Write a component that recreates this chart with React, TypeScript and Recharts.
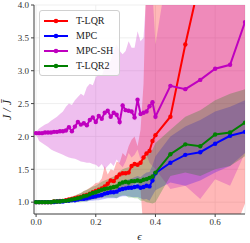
import React from "react";
import {
  ComposedChart,
  Line,
  Area,
  XAxis,
  YAxis,
  CartesianGrid,
  Legend,
  Label,
} from "recharts";

const eps = [
  0.0, 0.01, 0.02, 0.03, 0.04, 0.05, 0.06, 0.07, 0.08, 0.09,
  0.1, 0.11, 0.12, 0.13, 0.14, 0.15, 0.16, 0.17, 0.18, 0.19,
  0.2, 0.21, 0.22, 0.23, 0.24, 0.25, 0.26, 0.27, 0.28, 0.29,
  0.3, 0.31, 0.32, 0.33, 0.34, 0.35, 0.36, 0.37, 0.38, 0.39, 0.4,
  0.45, 0.5, 0.55, 0.6, 0.65, 0.7,
];

// T-LQR
const tlqr = [
  1.0, 1.0, 1.0, 1.0, 1.0, 1.0, 1.01, 1.01, 1.02, 1.02,
  1.03, 1.04, 1.05, 1.06, 1.07, 1.08, 1.1, 1.11, 1.13, 1.15,
  1.17, 1.19, 1.21, 1.24, 1.28, 1.33, 1.32, 1.38, 1.42, 1.44,
  1.44, 1.45, 1.55, 1.58, 1.57, 1.6, 1.68, 1.74, 1.78, 1.93, 2.02,
  2.3, 3.4, 4.4, 5.2, 6.0, 6.8,
];
const tlqrHi = [
  1.005, 1.005, 1.005, 1.01, 1.01, 1.01, 1.02, 1.025, 1.035, 1.04,
  1.06, 1.07, 1.09, 1.1, 1.12, 1.14, 1.17, 1.19, 1.22, 1.25,
  1.29, 1.3, 1.36, 1.55, 1.42, 1.5, 1.48, 1.62, 1.6, 1.75,
  1.7, 1.85, 1.95, 2.0, 1.85, 2.1, 2.8, 4.6, 4.8, 5.0, 5.2,
  5.6, 6.2, 7, 8, 9, 10,
];
const tlqrLo = [
  0.995, 0.995, 0.995, 0.99, 0.99, 0.99, 1.0, 0.995, 1.005, 1.0,
  1.0, 1.01, 1.01, 1.02, 1.02, 1.02, 1.03, 1.03, 1.04, 1.05,
  1.05, 1.08, 1.06, 1.1, 1.14, 1.16, 1.16, 1.18, 1.22, 1.2,
  1.18, 1.2, 1.25, 1.28, 1.3, 1.2, 0.55, 0.4, 0.3, 0.3, 0.3,
  0.3, 0.3, 0.3, 0.3, 0.4, 0.98,
];

// MPC
const mpc = [
  1.0, 1.0, 1.0, 1.0, 1.0, 1.0, 1.0, 1.01, 1.01, 1.01,
  1.02, 1.02, 1.03, 1.03, 1.04, 1.05, 1.05, 1.06, 1.07, 1.08,
  1.09, 1.1, 1.11, 1.13, 1.14, 1.15, 1.15, 1.16, 1.19, 1.2,
  1.21, 1.22, 1.22, 1.23, 1.24, 1.22, 1.23, 1.25, 1.24, 1.33, 1.44,
  1.6, 1.72, 1.76, 1.89, 2.01, 2.07,
];
const mpcHi = [
  1.005, 1.005, 1.005, 1.01, 1.01, 1.01, 1.01, 1.02, 1.025, 1.025,
  1.04, 1.04, 1.055, 1.06, 1.075, 1.085, 1.09, 1.11, 1.12, 1.14,
  1.15, 1.17, 1.18, 1.21, 1.22, 1.24, 1.24, 1.26, 1.3, 1.31,
  1.33, 1.35, 1.36, 1.38, 1.4, 1.38, 1.42, 1.45, 1.46, 1.56, 1.7,
  2.0, 2.15, 2.25, 2.38, 2.45, 2.55,
];
const mpcLo = [
  0.995, 0.995, 0.995, 0.99, 0.99, 0.99, 0.99, 1.0, 0.995, 0.995,
  1.0, 1.0, 1.005, 1.0, 1.005, 1.015, 1.01, 1.01, 1.02, 1.02,
  1.03, 1.03, 1.04, 1.05, 1.06, 1.06, 1.06, 1.06, 1.08, 1.09,
  1.09, 1.09, 1.08, 1.08, 1.08, 1.06, 1.04, 1.05, 1.02, 1.1, 1.18,
  1.3, 1.25, 1.33, 1.45, 1.55, 1.75,
];

// MPC-SH
const mpcsh = [
  2.05, 2.05, 2.05, 2.06, 2.06, 2.06, 2.07, 2.07, 2.08, 2.08,
  2.09, 2.14, 2.08, 2.15, 2.22, 2.18, 2.2, 2.17, 2.25, 2.29,
  2.22, 2.31, 2.27, 2.36, 2.39, 2.3, 2.36, 2.33, 2.22, 2.47,
  2.4, 2.39, 2.38, 2.29, 2.56, 2.34, 2.36, 2.38, 2.46, 2.52, 2.3,
  2.77, 2.72, 2.86, 3.03, 3.09, 3.74,
];
const mpcshHi = [
  2.07, 2.12, 2.15, 2.18, 2.2, 2.24, 2.27, 2.3, 2.34, 2.38,
  2.45, 2.5, 2.48, 2.55, 2.6, 2.65, 2.62, 2.75, 2.8, 2.78,
  2.9, 2.95, 2.92, 3.05, 3.1, 3.15, 3.3, 3.4, 3.3, 3.25,
  3.3, 3.45, 3.35, 3.35, 3.6, 3.45, 3.5, 4.2, 4.3, 4.2, 3.4,
  4.8, 5, 5.2, 5.5, 5.8, 6,
];
const mpcshLo = [
  2.03, 1.93, 1.9, 1.87, 1.84, 1.8, 1.78, 1.76, 1.74, 1.72,
  1.7, 1.68, 1.67, 1.66, 1.64, 1.62, 1.61, 1.6, 1.6, 1.58,
  1.57, 1.53, 1.58, 1.5, 1.55, 1.6, 1.55, 1.65, 1.58, 1.53,
  1.62, 1.75, 1.68, 1.72, 1.8, 1.65, 1.7, 1.72, 1.6, 1.55, 1.5,
  1.2, 1.25, 1.05, 1.35, 1.25, 1.75,
];

// T-LQR2
const tlqr2 = [
  1.0, 1.0, 1.0, 1.0, 1.0, 1.0, 1.01, 1.01, 1.01, 1.02,
  1.02, 1.03, 1.04, 1.05, 1.06, 1.07, 1.09, 1.1, 1.12, 1.14,
  1.15, 1.17, 1.19, 1.2, 1.21, 1.22, 1.23, 1.24, 1.28, 1.3,
  1.31, 1.3, 1.32, 1.32, 1.33, 1.32, 1.34, 1.35, 1.37, 1.39, 1.45,
  1.73, 1.88, 1.85, 2.03, 2.06, 2.21,
];
const tlqr2Hi = [
  1.005, 1.005, 1.005, 1.01, 1.01, 1.01, 1.02, 1.025, 1.03, 1.04,
  1.045, 1.06, 1.08, 1.1, 1.12, 1.14, 1.17, 1.19, 1.21, 1.24,
  1.25, 1.28, 1.31, 1.33, 1.35, 1.37, 1.39, 1.42, 1.47, 1.5,
  1.52, 1.53, 1.57, 1.58, 1.6, 1.62, 1.66, 1.7, 1.75, 1.8, 1.9,
  2.1, 2.3, 2.4, 2.55, 2.65, 2.72,
];
const tlqr2Lo = [
  0.995, 0.995, 0.995, 0.99, 0.99, 0.99, 1.0, 0.995, 0.99, 1.0,
  0.995, 1.0, 1.0, 1.0, 1.0, 1.0, 1.01, 1.01, 1.03, 1.04,
  1.05, 1.06, 1.07, 1.07, 1.07, 1.07, 1.07, 1.06, 1.09, 1.1,
  1.1, 1.07, 1.07, 1.06, 1.06, 1.02, 1.02, 1.0, 0.99, 0.98, 1.0,
  1.4, 1.45, 1.4, 1.5, 1.55, 1.7,
];

const xTicks = [0, 0.2, 0.4, 0.6];
const yTicks = [1.0, 1.5, 2.0, 2.5, 3.0, 3.5, 4.0];

const series = [
  { key: "tlqr", name: "T-LQR", color: "#ff0000" },
  { key: "mpc", name: "MPC", color: "#0000ff" },
  { key: "mpcsh", name: "MPC-SH", color: "#bf00bf" },
  { key: "tlqr2", name: "T-LQR2", color: "#008000" },
];

const data = eps.map((x, i) => ({
  x,
  tlqr: tlqr[i],
  tlqrBand: [tlqrLo[i], tlqrHi[i]],
  mpc: mpc[i],
  mpcBand: [mpcLo[i], mpcHi[i]],
  mpcsh: mpcsh[i],
  mpcshBand: [mpcshLo[i], mpcshHi[i]],
  tlqr2: tlqr2[i],
  tlqr2Band: [tlqr2Lo[i], tlqr2Hi[i]],
}));

const FONT = "'Liberation Serif', 'DejaVu Serif', serif";

function LegendBox() {
  return (
    <div
      style={{
        background: "rgba(255,255,255,0.85)",
        border: "1px solid #d0d0d0",
        borderRadius: 3,
        padding: "2px 6px 2px 3px",
        fontFamily: FONT,
        fontSize: 10,
        color: "#222",
      }}
    >
      {series.map((s) => (
        <div key={s.key} style={{ display: "flex", alignItems: "center", height: 15 }}>
          <svg width={26} height={8} style={{ marginRight: 7 }}>
            <line x1={1} y1={4} x2={25} y2={4} stroke={s.color} strokeWidth={2} />
            <circle cx={13} cy={4} r={2.3} fill={s.color} />
          </svg>
          <span>{s.name}</span>
        </div>
      ))}
    </div>
  );
}

export default function App() {
  return (
    <div style={{ position: "absolute", left: 0, top: 0, width: 250, height: 243 }}>
      <ComposedChart
        width={250}
        height={243}
        data={data}
        margin={{ top: 5, right: 5, left: 0, bottom: 0 }}
      >
        <CartesianGrid stroke="#ebebeb" strokeWidth={0.8} />
        <XAxis
          type="number"
          dataKey="x"
          domain={[-0.007, 0.7]}
          allowDataOverflow
          ticks={xTicks}
          tickFormatter={(v) => v.toFixed(1)}
          height={29}
          tickSize={3}
          stroke="#444"
          tick={{ fill: "#333", fontSize: 9, fontFamily: FONT }}
        >
          <Label
            value="ϵ"
            position="insideBottom"
            offset={3}
            style={{ fill: "#222", fontSize: 11, fontFamily: FONT, fontStyle: "italic" }}
          />
        </XAxis>
        <YAxis
          type="number"
          domain={[0.82, 4.0]}
          allowDataOverflow
          ticks={yTicks}
          tickFormatter={(v) => v.toFixed(1)}
          width={34}
          tickSize={3}
          stroke="#444"
          tick={{ fill: "#333", fontSize: 9, fontFamily: FONT }}
        />
        <XAxis xAxisId="top" orientation="top" height={0} tick={false} stroke="#444" type="number" domain={[0, 1]} />
        <YAxis yAxisId="right" orientation="right" width={0} tick={false} stroke="#444" type="number" domain={[0, 1]} />

        {series.map((s) => (
          <Area
            key={s.key + "Band"}
            type="linear"
            dataKey={s.key + "Band"}
            stroke="none"
            fill={s.color}
            fillOpacity={s.key === "tlqr" ? 0.28 : 0.25}
            isAnimationActive={false}
            legendType="none"
            activeDot={false}
          />
        ))}
        {series.map((s) => (
          <Line
            key={s.key}
            type="linear"
            dataKey={s.key}
            name={s.name}
            stroke={s.color}
            strokeWidth={2}
            dot={{ r: 2.2, fill: s.color, stroke: s.color, strokeWidth: 0 }}
            activeDot={false}
            isAnimationActive={false}
          />
        ))}
        <Legend
          layout="vertical"
          align="center"
          verticalAlign="middle"
          content={() => <LegendBox />}
          wrapperStyle={{ position: "absolute", top: 10, left: 39, width: "auto" }}
        />
      </ComposedChart>
      {/* y axis title */}
      <div
        style={{
          position: "absolute",
          left: 7,
          top: 110,
          transform: "translate(-50%, -50%) rotate(-90deg)",
          fontFamily: FONT,
          fontStyle: "italic",
          fontSize: 12,
          color: "#222",
          whiteSpace: "nowrap",
          lineHeight: 1,
        }}
      >
        J / J̄
      </div>
    </div>
  );
}
